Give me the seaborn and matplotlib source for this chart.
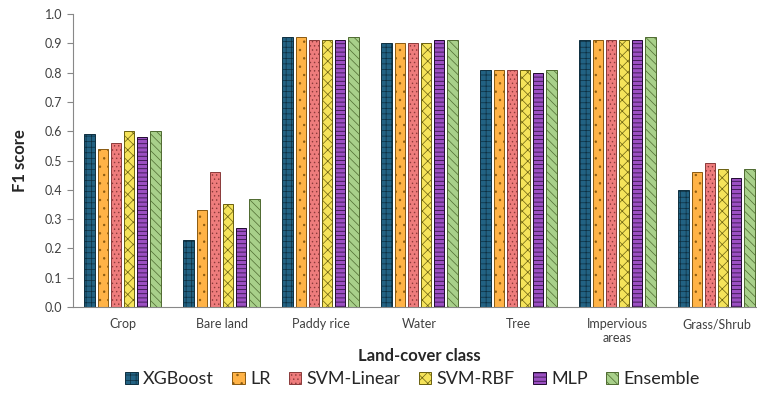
import matplotlib
matplotlib.use("Agg")
import matplotlib.pyplot as plt
import seaborn as sns
import pandas as pd
import numpy as np

categories = ["Crop", "Bare land", "Paddy rice", "Water", "Tree", "Impervious\nareas", "Grass/Shrub"]
models = ["XGBoost", "LR", "SVM-Linear", "SVM-RBF", "MLP", "Ensemble"]
xgboost = [0.59, 0.23, 0.92, 0.90, 0.81, 0.91, 0.40]
lr = [0.54, 0.33, 0.92, 0.90, 0.81, 0.91, 0.46]
svm_linear = [0.56, 0.46, 0.91, 0.90, 0.81, 0.91, 0.49]
svm_rbf = [0.60, 0.35, 0.91, 0.90, 0.81, 0.91, 0.47]
mlp = [0.58, 0.27, 0.91, 0.91, 0.80, 0.91, 0.44]
ensemble = [0.60, 0.37, 0.92, 0.91, 0.81, 0.92, 0.47]

series = [xgboost, lr, svm_linear, svm_rbf, mlp, ensemble]
rows = []
for m, vals in zip(models, series):
    for c, v in zip(categories, vals):
        rows.append({"Class": c, "Model": m, "F1": v})
df = pd.DataFrame(rows)

colors = ["#226283", "#FFB347", "#EE7C7C", "#F5E35A", "#9B4FC2", "#A8D08A"]
edge_colors = ["#0E2F40", "#8A5A10", "#8A3A3A", "#6A6010", "#200A30", "#4E6A30"]
hatches = ["+++", "..", "....", "xxx", "----", "\\\\\\\\"]

sns.set_style("white")
plt.rcParams['font.family'] = ['Lato', 'DejaVu Sans']
plt.rcParams['hatch.linewidth'] = 0.5

fig = plt.figure(figsize=(7.57, 3.95), dpi=100)
ax = fig.add_axes([73/757, 88/395, 693/757, 293/395])

sns.barplot(data=df, x="Class", y="F1", hue="Model", order=categories, hue_order=models,
            palette=colors, saturation=1, width=0.8, ax=ax, legend=False, linewidth=0.7)

handles = []
for i, cont in enumerate(ax.containers):
    for bar in cont:
        bar.set_hatch(hatches[i])
        bar.set_edgecolor(edge_colors[i])
        w = bar.get_width()
        bar.set_x(bar.get_x() + w * 0.12)
        bar.set_width(w * 0.76)
    handles.append(cont[0])

ax.set_xlim(-0.5, len(categories) - 0.5)
ax.set_ylim(0, 1.0)
ax.set_yticks(np.arange(0, 1.01, 0.1))
ax.set_yticklabels([f"{v:.1f}" for v in np.arange(0, 1.01, 0.1)])
ax.set_xticks(range(len(categories)))
ax.set_xticklabels(categories)
ax.set_xticks(np.arange(0.5, len(categories) - 0.5 + 0.01, 1.0), minor=True)
ax.tick_params(axis='x', which='major', length=0, labelsize=9, colors="#404040", pad=8)
ax.tick_params(axis='x', which='minor', length=4, direction='out', color="#888888", width=0.8)
ax.tick_params(axis='y', length=4, direction='out', labelsize=9, colors="#404040", left=True, width=0.8)
ax.tick_params(axis='y', color="#888888")

sns.despine(ax=ax, top=True, right=True)
ax.spines['left'].set_color("#888888")
ax.spines['bottom'].set_color("#888888")
ax.spines['left'].set_linewidth(0.8)
ax.spines['bottom'].set_linewidth(0.8)

ax.set_xlabel("Land-cover class", fontsize=12, fontweight="bold", labelpad=3)
ax.set_ylabel("F1 score", fontsize=12, fontweight="bold", labelpad=12)

fig.legend(handles, models, loc="center", bbox_to_anchor=(0.545, 0.04), ncol=6, frameon=False,
           fontsize=13, handlelength=0.7, handleheight=0.7, handletextpad=0.3, columnspacing=1.0)

fig.savefig("out.png", dpi=100)
